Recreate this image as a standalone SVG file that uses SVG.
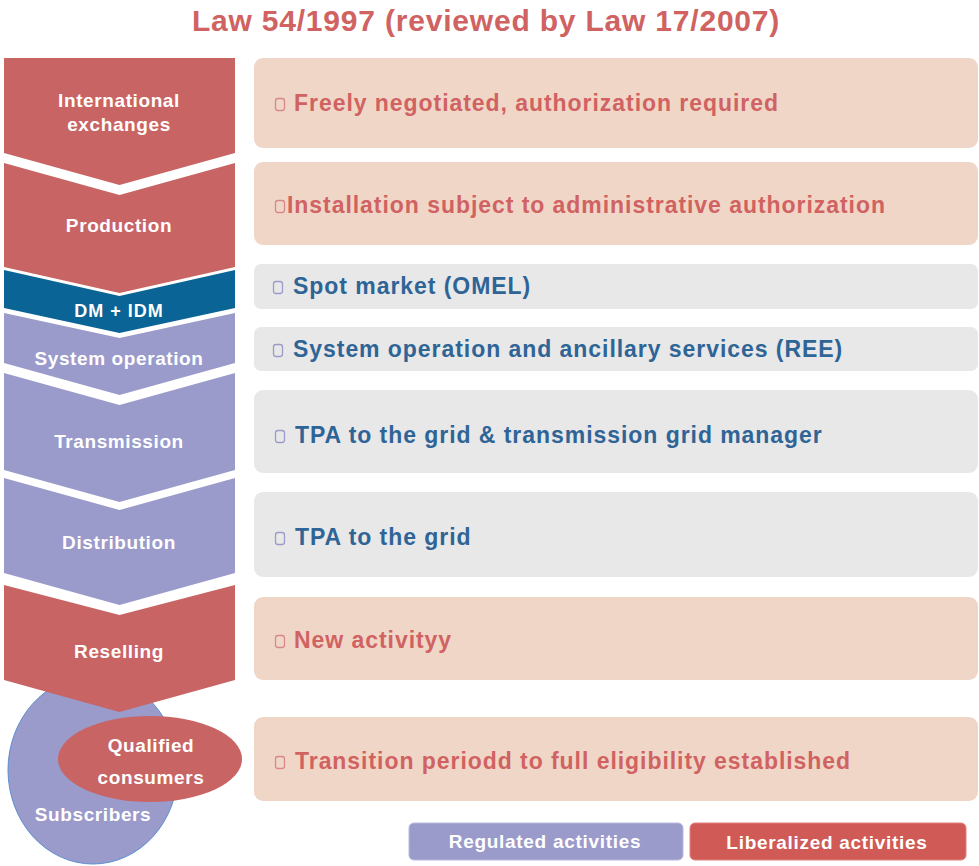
<svg xmlns="http://www.w3.org/2000/svg" width="979" height="866" viewBox="0 0 979 866">
<style>
.red{fill:#C96464}
.blue{fill:#0A6496}
.lav{fill:#9A9ACB}
.lbl{font-family:"Liberation Sans",Arial,sans-serif;font-weight:bold;font-size:19px;fill:#fff;text-anchor:middle;letter-spacing:0.6px}
.lib{fill:#F0D6C7}
.reg{fill:#E8E8E8}
.t{font-family:"Liberation Sans",Arial,sans-serif;font-weight:bold;font-size:23px;letter-spacing:0.95px}
.tr{fill:#D06262}
.tb{fill:#2F6496}
.bul{fill:none;stroke-width:1.3}
.bulr{stroke:#D88888}
.bulb{stroke:#9A9ACB}
</style>
<rect width="979" height="866" fill="#fff"/>
<text x="486" y="31" text-anchor="middle" font-family="Liberation Sans,Arial,sans-serif" font-weight="bold" font-size="30" letter-spacing="0.8" fill="#D06262">Law 54/1997 (reviewed by Law 17/2007)</text>

<g id="subscribers">
<ellipse cx="93" cy="770" rx="85" ry="94" class="lav" stroke="#5B8FD0" stroke-width="1"/>
<text x="93" y="821" class="lbl">Subscribers</text>
</g>

<g id="intl">
<polygon points="4,58 235,58 235,153 119.5,185 4,153" class="red"/>
<text x="119" y="107" class="lbl">International</text>
<text x="119" y="131" class="lbl">exchanges</text>
</g>
<g id="production">
<polygon points="4,163 119.5,195 235,163 235,267 119.5,293 4,267" class="red"/>
<text x="119" y="232" class="lbl">Production</text>
</g>
<g id="dm">
<polygon points="4,270 119.5,296 235,270 235,308 119.5,333 4,308" class="blue"/>
<text x="119" y="317" class="lbl" style="font-size:18px;letter-spacing:1px">DM + IDM</text>
</g>
<g id="sysop">
<polygon points="4,313 119.5,338 235,313 235,363 119.5,395 4,363" class="lav"/>
<text x="119" y="365" class="lbl">System operation</text>
</g>
<g id="transmission">
<polygon points="4,373 119.5,405 235,373 235,470 119.5,502 4,470" class="lav"/>
<text x="119" y="448" class="lbl">Transmission</text>
</g>
<g id="distribution">
<polygon points="4,478 119.5,510 235,478 235,573 119.5,605 4,573" class="lav"/>
<text x="119" y="549" class="lbl">Distribution</text>
</g>
<g id="reselling">
<polygon points="4,585 119.5,615 235,585 235,680 119.5,712 4,680" class="red"/>
<text x="119" y="658" class="lbl">Reselling</text>
</g>
<g id="qualified">
<ellipse cx="150" cy="759" rx="92" ry="43" class="red"/>
<text x="151" y="752" class="lbl">Qualified</text>
<text x="151" y="784" class="lbl">consumers</text>
</g>

<g id="row1">
<rect x="254" y="58" width="724" height="90" rx="9" class="lib"/>
<rect x="275.5" y="98.5" width="9" height="12" rx="2.5" class="bul bulr"/>
<text x="294" y="111" class="t tr">Freely negotiated, authorization required</text>
</g>
<g id="row2">
<rect x="254" y="162" width="724" height="83" rx="9" class="lib"/>
<rect x="275.5" y="200.5" width="9" height="12" rx="2.5" class="bul bulr"/>
<text x="287" y="213" class="t tr">Installation subject to administrative authorization</text>
</g>
<g id="row3">
<rect x="254" y="264" width="724" height="45" rx="7" class="reg"/>
<rect x="273.5" y="281.5" width="9" height="12" rx="2.5" class="bul bulb"/>
<text x="293" y="294" class="t tb">Spot market (OMEL)</text>
</g>
<g id="row4">
<rect x="254" y="327" width="724" height="44" rx="7" class="reg"/>
<rect x="273.5" y="344.5" width="9" height="12" rx="2.5" class="bul bulb"/>
<text x="293" y="357" class="t tb">System operation and ancillary services (REE)</text>
</g>
<g id="row5">
<rect x="254" y="390" width="724" height="83" rx="9" class="reg"/>
<rect x="275.5" y="430.5" width="9" height="12" rx="2.5" class="bul bulb"/>
<text x="295" y="443" class="t tb">TPA to the grid &amp; transmission grid manager</text>
</g>
<g id="row6">
<rect x="254" y="492" width="724" height="85" rx="9" class="reg"/>
<rect x="275.5" y="532.5" width="9" height="12" rx="2.5" class="bul bulb"/>
<text x="295" y="545" class="t tb">TPA to the grid</text>
</g>
<g id="row7">
<rect x="254" y="597" width="724" height="83" rx="9" class="lib"/>
<rect x="275.5" y="635.5" width="9" height="12" rx="2.5" class="bul bulr"/>
<text x="294" y="648" class="t tr">New activityy</text>
</g>
<g id="row8">
<rect x="254" y="717" width="724" height="84" rx="9" class="lib"/>
<rect x="275.5" y="756.5" width="9" height="12" rx="2.5" class="bul bulr"/>
<text x="295" y="769" class="t tr">Transition periodd to full eligibility established</text>
</g>

<g id="legend-regulated">
<rect x="409" y="823" width="274" height="37" rx="5" fill="#9A9ACB" stroke="#B8B8DC" stroke-width="1"/>
<text x="545" y="848" class="lbl" style="letter-spacing:0.7px">Regulated activities</text>
</g>
<g id="legend-liberalized">
<rect x="690" y="823" width="276" height="37" rx="5" fill="#D05A55" stroke="#E08080" stroke-width="1"/>
<text x="827" y="849" class="lbl" style="letter-spacing:0.7px">Liberalized activities</text>
</g>
<g id="connectors"></g>
</svg>
